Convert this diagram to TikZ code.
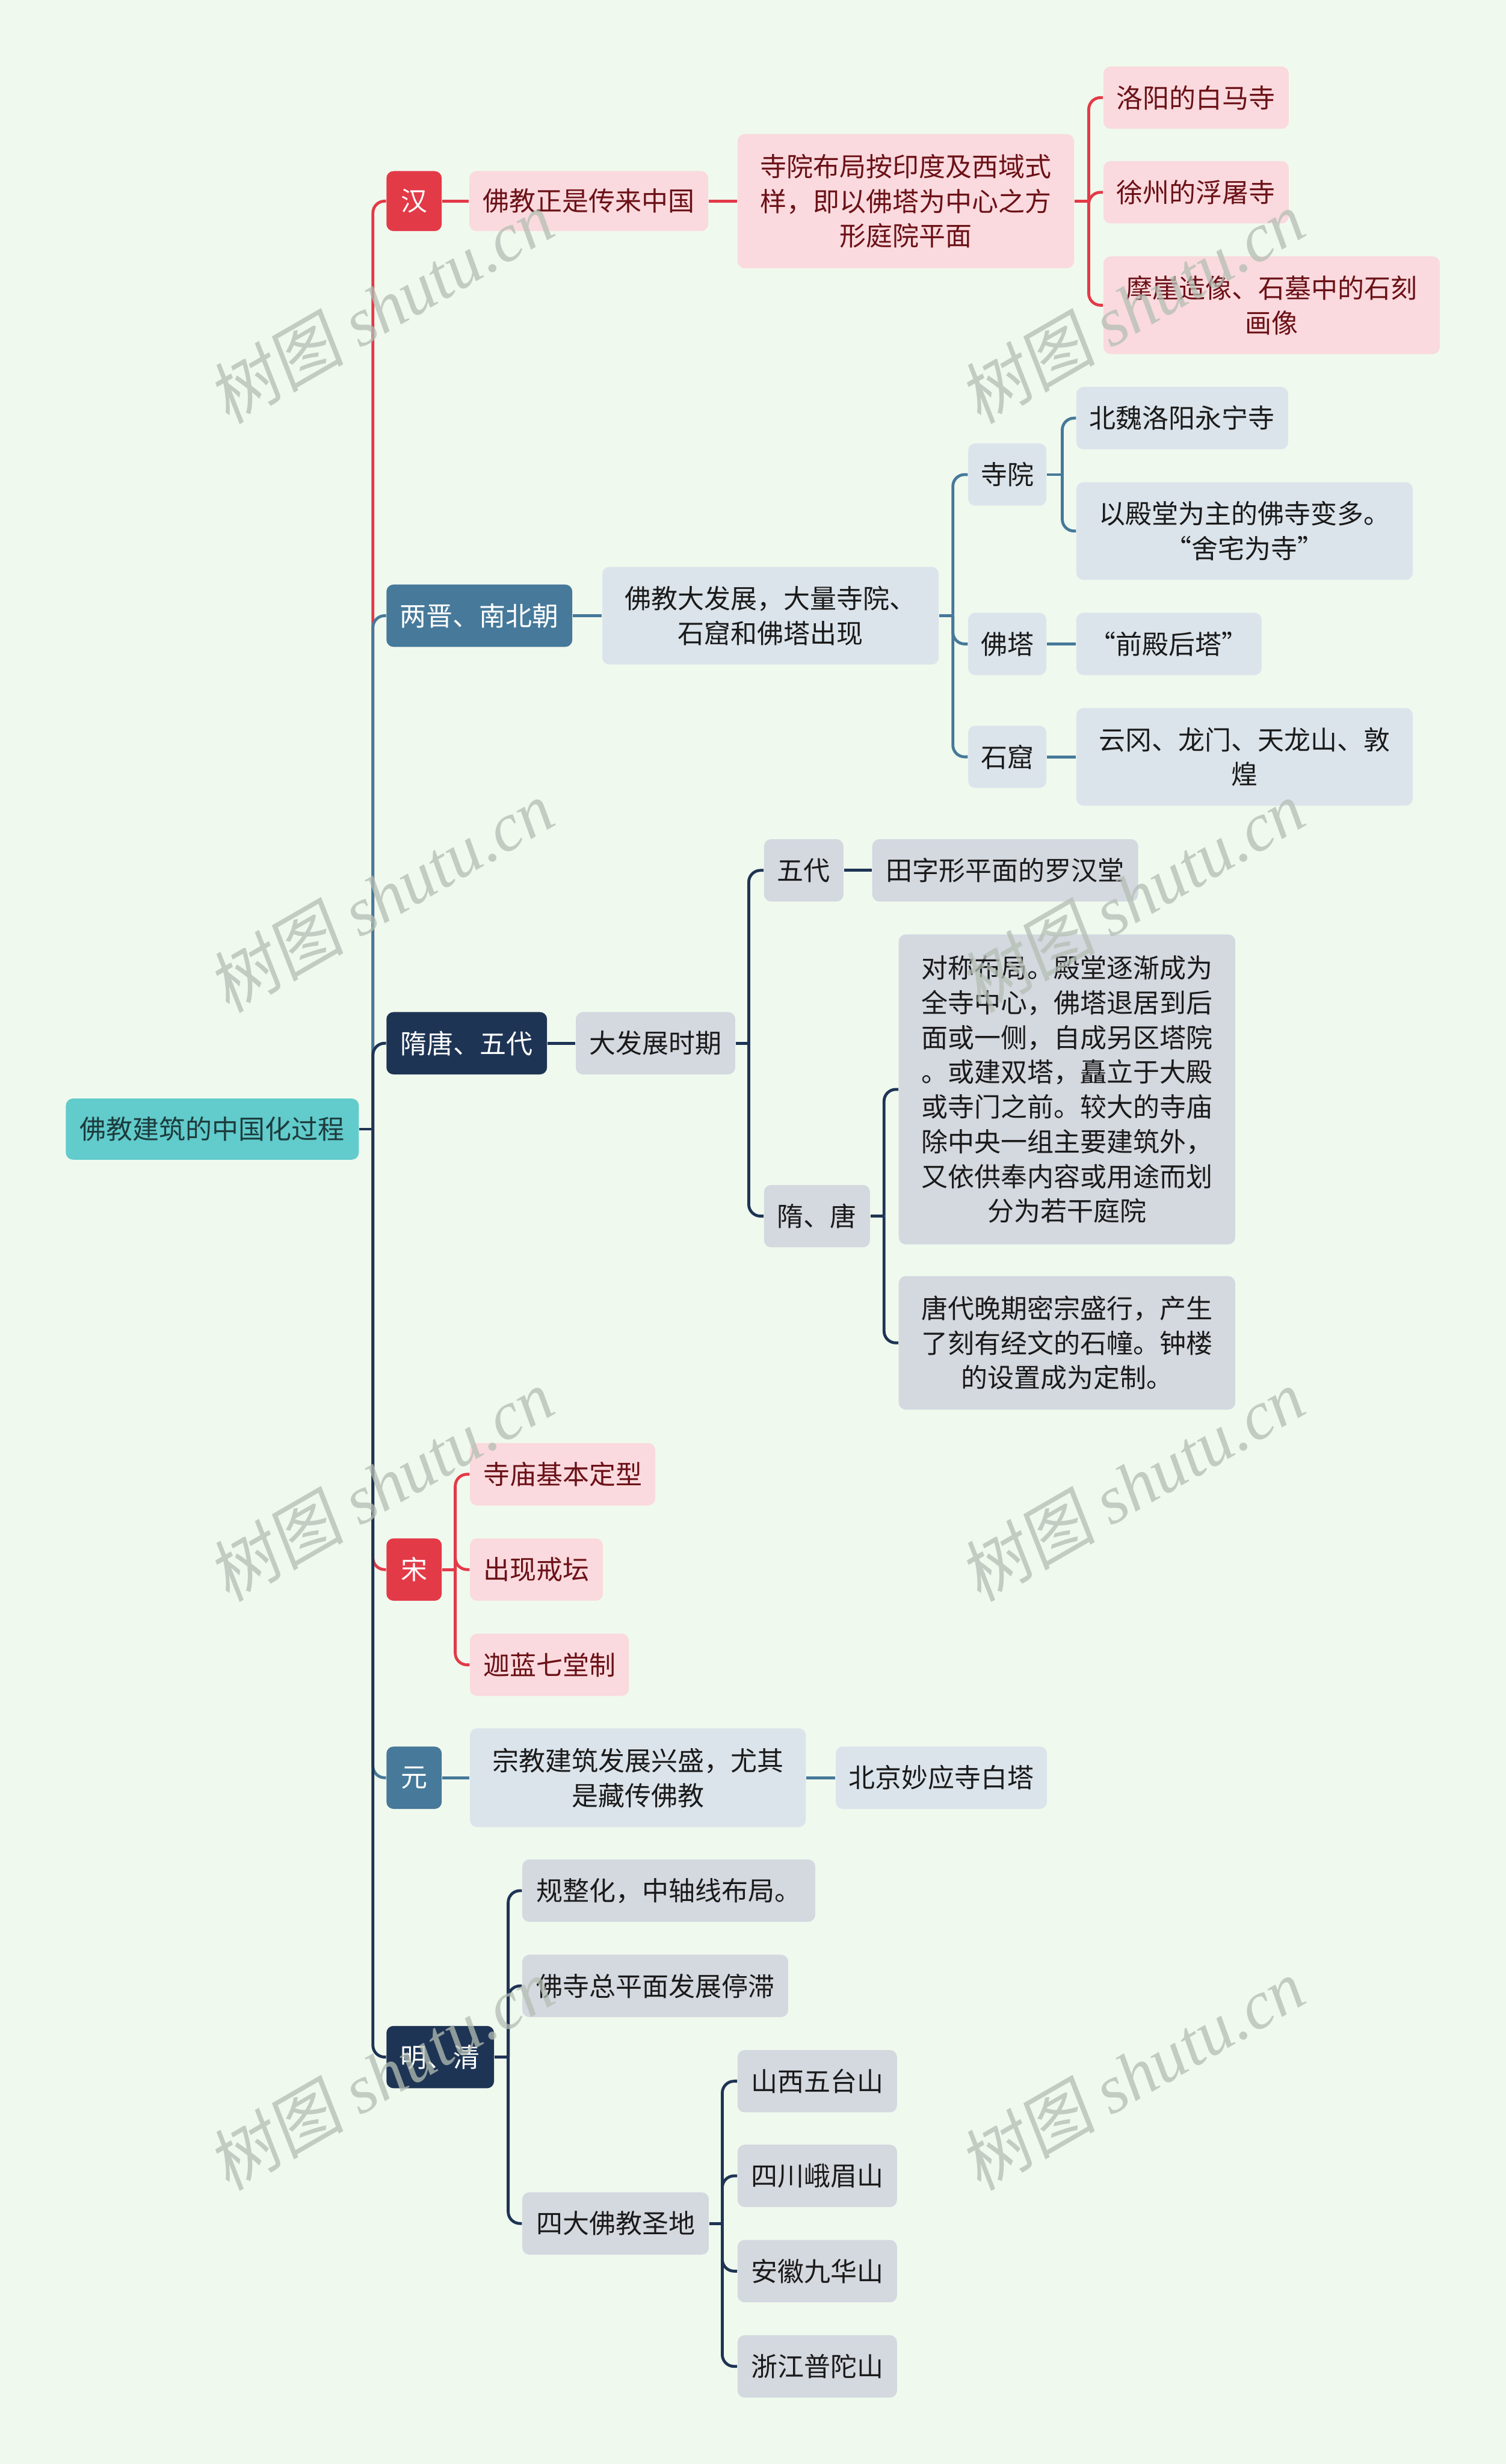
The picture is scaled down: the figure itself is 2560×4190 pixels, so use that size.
\documentclass[tikz,border=0pt]{standalone}
\usepackage{fontspec}
\newfontfamily\cjk{Noto Sans CJK SC}
\newfontfamily\wmcjk[FakeSlant=0.15]{Noto Sans CJK SC}
\newfontfamily\wmlat{Liberation Serif}
\definecolor{bg}{HTML}{F0F9EE}
\definecolor{cred}{HTML}{E33A48}
\definecolor{cpink}{HTML}{FADADE}
\definecolor{cdred}{HTML}{6B1117}
\definecolor{csteel}{HTML}{46799A}
\definecolor{clb}{HTML}{DCE4EB}
\definecolor{cnavy}{HTML}{1E3454}
\definecolor{cgray}{HTML}{D4D8DF}
\definecolor{cteal}{HTML}{62CBCC}
\definecolor{croot}{HTML}{1D3C3D}
\definecolor{ctext}{HTML}{1A1A1A}
\definecolor{cwm}{HTML}{B4BEB4}
\newcommand\nd[7]{%
  \pgfmathsetmacro\ndw{(#5-#3)*0.01}%
  \pgfmathsetmacro\ndh{(#6-#4)*0.01}%
  \node[#2, minimum width=\ndw cm, minimum height=\ndh cm] (#1) at ({(#3+#5)/2},{(#4+#6)/2}) {#7};}
\tikzset{
  box/.style={rounded corners=0.12cm, inner sep=0pt, align=center, font=\cjk\fontsize{12.8pt}{16.8pt}\selectfont},
  rootN/.style={box, fill=cteal, text=croot},
  redL/.style={box, fill=cred, text=white},
  pinkN/.style={box, fill=cpink, text=cdred},
  steelL/.style={box, fill=csteel, text=white},
  lbN/.style={box, fill=clb, text=ctext},
  navyL/.style={box, fill=cnavy, text=white},
  grayN/.style={box, fill=cgray, text=ctext},
  ln/.style={line width=1.4pt, rounded corners=0.2cm},
  rl/.style={ln, draw=cred},
  sl/.style={ln, draw=csteel},
  nl/.style={ln, draw=cnavy},
  wm/.style={rotate=30, text=cwm, opacity=0.75, inner sep=0pt}
}
\begin{document}
\begin{tikzpicture}[x=0.01cm,y=-0.01cm]
\fill[bg] (0,0) rectangle (2560,4190);
\useasboundingbox (0,0) rectangle (2560,4190);
\coordinate (sp) at (634,1920);
% nodes
\nd{root}{rootN}{112}{1868}{610}{1972}{佛教建筑的中国化过程}
% Han
\nd{han}{redL}{657}{291}{751}{393}{汉}
\nd{han2}{pinkN}{798}{291}{1204}{393}{佛教正是传来中国}
\nd{han3}{pinkN}{1254}{228}{1826}{456}{寺院布局按印度及西域式\\样，即以佛塔为中心之方\\形庭院平面}
\nd{ly}{pinkN}{1876}{113}{2191}{219}{洛阳的白马寺}
\nd{xz}{pinkN}{1876}{274}{2191}{380}{徐州的浮屠寺}
\nd{my}{pinkN}{1876}{436}{2448}{602}{摩崖造像、石墓中的石刻\\画像}
\coordinate (b1) at (1851,342);
% Liang Jin
\nd{lj}{steelL}{657}{994}{973}{1100}{两晋、南北朝}
\nd{lj2}{lbN}{1024}{964}{1596}{1130}{佛教大发展，大量寺院、\\石窟和佛塔出现}
\coordinate (b2) at (1620,1047);
\nd{sy}{lbN}{1646}{754}{1779}{860}{寺院}
\nd{bw}{lbN}{1830}{658}{2190}{764}{北魏洛阳永宁寺}
\nd{yd}{lbN}{1830}{820}{2402}{986}{以殿堂为主的佛寺变多。\\“舍宅为寺”}
\coordinate (b3) at (1806,807);
\nd{ft}{lbN}{1646}{1042}{1779}{1148}{佛塔}
\nd{qd}{lbN}{1830}{1042}{2145}{1148}{“前殿后塔”}
\nd{sk}{lbN}{1646}{1234}{1779}{1340}{石窟}
\nd{yg}{lbN}{1830}{1204}{2402}{1370}{云冈、龙门、天龙山、敦\\煌}
% Sui Tang
\nd{st}{navyL}{657}{1721}{930}{1827}{隋唐、五代}
\nd{dfz}{grayN}{979}{1721}{1250}{1827}{大发展时期}
\coordinate (b4) at (1273,1774);
\nd{wd}{grayN}{1299}{1427}{1434}{1533}{五代}
\nd{lh}{grayN}{1483}{1427}{1935}{1533}{田字形平面的罗汉堂}
\nd{styt}{grayN}{1299}{2015}{1479}{2121}{隋、唐}
\coordinate (b5) at (1503,2068);
\nd{dc}{grayN}{1528}{1589}{2100}{2116}{对称布局。殿堂逐渐成为\\全寺中心，佛塔退居到后\\面或一侧，自成另区塔院\\。或建双塔，矗立于大殿\\或寺门之前。较大的寺庙\\除中央一组主要建筑外，\\又依供奉内容或用途而划\\分为若干庭院}
\nd{wq}{grayN}{1528}{2170}{2100}{2397}{唐代晚期密宗盛行，产生\\了刻有经文的石幢。钟楼\\的设置成为定制。}
% Song
\nd{song}{redL}{657}{2616}{751}{2722}{宋}
\coordinate (b6) at (774,2669);
\nd{sm}{pinkN}{799}{2454}{1114}{2560}{寺庙基本定型}
\nd{cx}{pinkN}{799}{2616}{1025}{2722}{出现戒坛}
\nd{jl}{pinkN}{799}{2778}{1069}{2884}{迦蓝七堂制}
% Yuan
\nd{yuan}{steelL}{657}{2970}{751}{3076}{元}
\nd{yz}{lbN}{799}{2939}{1370}{3107}{宗教建筑发展兴盛，尤其\\是藏传佛教}
\nd{bj}{lbN}{1421}{2970}{1780}{3076}{北京妙应寺白塔}
% Ming Qing
\nd{mq}{navyL}{657}{3445}{840}{3551}{明、清}
\coordinate (b7) at (864,3498);
\nd{gz}{grayN}{888}{3162}{1386}{3268}{规整化，中轴线布局。}
\nd{fs}{grayN}{888}{3324}{1340}{3430}{佛寺总平面发展停滞}
\nd{sd}{grayN}{888}{3728}{1205}{3834}{四大佛教圣地}
\coordinate (b8) at (1228,3781);
\nd{wt}{grayN}{1254}{3486}{1525}{3592}{山西五台山}
\nd{em}{grayN}{1254}{3647}{1525}{3753}{四川峨眉山}
\nd{jh}{grayN}{1254}{3809}{1525}{3915}{安徽九华山}
\nd{pt}{grayN}{1254}{3971}{1525}{4077}{浙江普陀山}
% connectors: spine
\draw[rl] (sp) |- (han.west);
\draw[sl] (sp) |- (lj.west);
\draw[nl] (sp) |- (st.west);
\draw[rl] (sp) |- (song.west);
\draw[sl] (sp) |- (yuan.west);
\draw[nl] (sp) |- (mq.west);
\draw[nl] (root.east) -- (sp);
% Han
\draw[rl] (han.east) -- (han2.west);
\draw[rl] (han2.east) -- (han3.west);
\draw[rl] (han3.east) -- (b1);
\draw[rl] (b1) |- (ly.west);
\draw[rl] (b1) |- (xz.west);
\draw[rl] (b1) |- (my.west);
% Liang Jin
\draw[sl] (lj.east) -- (lj2.west);
\draw[sl] (lj2.east) -- (b2);
\draw[sl] (b2) |- (sy.west);
\draw[sl] (b2) |- (ft.west);
\draw[sl] (b2) |- (sk.west);
\draw[sl] (sy.east) -- (b3);
\draw[sl] (b3) |- (bw.west);
\draw[sl] (b3) |- (yd.west);
\draw[sl] (ft.east) -- (qd.west);
\draw[sl] (sk.east) -- (yg.west);
% Sui Tang
\draw[nl] (st.east) -- (dfz.west);
\draw[nl] (dfz.east) -- (b4);
\draw[nl] (b4) |- (wd.west);
\draw[nl] (b4) |- (styt.west);
\draw[nl] (wd.east) -- (lh.west);
\draw[nl] (styt.east) -- (b5);
\draw[nl] (b5) |- (dc.west);
\draw[nl] (b5) |- (wq.west);
% Song
\draw[rl] (song.east) -- (b6);
\draw[rl] (b6) |- (sm.west);
\draw[rl] (b6) |- (cx.west);
\draw[rl] (b6) |- (jl.west);
% Yuan
\draw[sl] (yuan.east) -- (yz.west);
\draw[sl] (yz.east) -- (bj.west);
% Ming Qing
\draw[nl] (mq.east) -- (b7);
\draw[nl] (b7) |- (gz.west);
\draw[nl] (b7) |- (fs.west);
\draw[nl] (b7) |- (sd.west);
\draw[nl] (sd.east) -- (b8);
\draw[nl] (b8) |- (wt.west);
\draw[nl] (b8) |- (em.west);
\draw[nl] (b8) |- (jh.west);
\draw[nl] (b8) |- (pt.west);
% watermarks
\foreach \i/\wx/\wy in {1/647/522, 2/1924/522, 3/647/1524, 4/1924/1524, 5/647/2525, 6/1924/2525, 7/647/3527, 8/1924/3527}{
  \node[wm] (wm\i) at (\wx,\wy) {\wmcjk\fontsize{33pt}{33pt}\selectfont 树图 \wmlat\itshape shutu.cn};
}
\end{tikzpicture}
\end{document}
